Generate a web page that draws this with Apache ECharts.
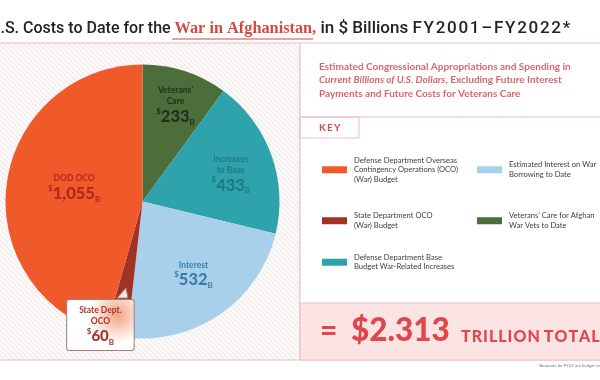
<!DOCTYPE html>
<html><head><meta charset="utf-8">
<script src="https://cdn.jsdelivr.net/npm/echarts@6/dist/echarts.min.js"></script>
<style>html,body{margin:0;padding:0;background:#fff}#c{width:600px;height:380px}</style>
</head><body><div id="c"></div>
<script>
// ---- data ----
const sliceNames = [
  "Veterans’ Care for Afghan War Vets to Date",
  "Defense Department Base Budget War-Related Increases",
  "Estimated Interest on War Borrowing to Date",
  "State Department OCO (War) Budget",
  "Defense Department Overseas Contingency Operations (OCO) (War) Budget"
];
const values = [233, 433, 532, 60, 1055];
const sliceTitles = [["Veterans’", "Care"], ["Increases", "to Base"], ["Interest"], ["State Dept.", "OCO"], ["DOD OCO"]];
const amountLabels = ["233", "433", "532", "60", "1,055"];
const legendLines = [
  ["Veterans’ Care for Afghan", "War Vets to Date"],
  ["Defense Department Base", "Budget War-Related Increases"],
  ["Estimated Interest on War", "Borrowing to Date"],
  ["State Department OCO", "(War) Budget"],
  ["Defense Department Overseas", "Contingency Operations (OCO)", "(War) Budget"]
];
const legendCol1 = [4, 3, 1];
const legendCol2 = [2, 0];
const totalText = "$2.313";

// ---- styles ----
const colors = ["#4b6e3b", "#2ea3ac", "#a9d0eb", "#a33226", "#f05a2a"];
const labelColors = ["#22301c", "#1e7a84", "#3b7eac", "#a3362c", "#b0281f"];
const labelRadius = [103, 91, 86, 127, 66];
const labelOffsets = [[0, 5], [0, 5], [0, 0], [-17, -4], [0, -4]];
const center = [142.5, 201.5];
const R = 137;
const pink = "#e7c1c4";
const F = "Lato, 'Open Sans', sans-serif";
const H = '\u200a';

const tile = document.createElement('canvas');
tile.width = 5; tile.height = 5;
const g = tile.getContext('2d');
g.fillStyle = '#fcf9f9'; g.fillRect(0, 0, 5, 5);
g.fillStyle = '#efe4e4';
for (let i = 0; i < 5; i++) g.fillRect(i, i, 1, 1);

const chart = echarts.init(document.getElementById('c'), null, {renderer: 'canvas'});

function legendText(name) {
  return legendLines[sliceNames.indexOf(name)].join('\n');
}
function legendItems(idxs) {
  return idxs.map(i => ({
    name: sliceNames[i],
    textStyle: {padding: [(legendLines[i].length - 1) * 9.5, 0, 0, 2]}
  }));
}
const legendBase = {
  orient: 'vertical', padding: 0, itemWidth: 25, itemHeight: 7, icon: 'rect',
  selectedMode: false, formatter: legendText,
  textStyle: {fontFamily: F, fontSize: 7.6, lineHeight: 9.5, color: '#404040'}
};

const labelSeries = values.map((v, i) => {
  const c = labelColors[i];
  const isCallout = i === 3;
  return {
    type: 'pie', silent: true, z: 4, center: center, radius: [0, labelRadius[i] * 2],
    startAngle: 90, clockwise: true, avoidLabelOverlap: false,
    itemStyle: {color: 'transparent'}, emphasis: {disabled: true}, labelLine: {show: false},
    data: values.map((vv, j) => ({name: 'lbl' + i + '_' + j, value: vv, label: {show: j === i}})),
    label: Object.assign({
      position: 'inside',
      offset: labelOffsets[i],
      formatter: () => sliceTitles[i].map(t => '{t|' + t + '}').join('\n') + '\n{d|$}{n|' + amountLabels[i] + '}{b|B}',
      rich: {
        t: {fontFamily: F, fontWeight: 'bold', fontSize: 8.5, lineHeight: 11, color: c, align: 'center'},
        d: {fontFamily: F, fontWeight: 'bold', fontSize: 8, lineHeight: 11, color: c, verticalAlign: 'top'},
        n: {fontFamily: F, fontWeight: 900, fontSize: isCallout ? 15 : 16.5, lineHeight: 19, color: c},
        b: {fontFamily: F, fontWeight: 'bold', fontSize: 8, lineHeight: 12, color: c, verticalAlign: 'bottom'}
      }
    }, isCallout ? {
      backgroundColor: new echarts.graphic.RadialGradient(0.75, 0.3, 0.55, [
        {offset: 0, color: '#f3a27e'}, {offset: 1, color: '#ffffff'}]),
      borderColor: '#9c7f7c', borderWidth: 1, borderRadius: 2, padding: [5, 12, 4, 12]
    } : {})
  };
});

const fyText = 'FY2001–FY2022*'.split('').join(H);

chart.setOption({
  animation: false,
  backgroundColor: '#ffffff',
  title: {
    left: -10, top: 20, padding: 0,
    text: '{a|U.S. Costs to Date for the }{r|War in Afghanistan,}{c| in $ Billions ' + fyText + '}',
    textStyle: {
      rich: {
        a: {fontFamily: "Roboto, sans-serif", fontWeight: 500, fontSize: 16, color: '#232323'},
        r: {fontFamily: "'Liberation Serif', serif", fontSize: 16.3, color: '#d4483f'},
        c: {fontFamily: "Roboto, sans-serif", fontWeight: 500, fontSize: 17, color: '#232323'}
      }
    }
  },
  graphic: [
    {type: 'rect', z: -10, shape: {x: -2, y: 43, width: 302, height: 317},
      style: {fill: {image: tile, repeat: 'repeat'}, stroke: pink, lineWidth: 1}},
    {type: 'rect', z: -10, shape: {x: 300, y: 43, width: 310, height: 317},
      style: {fill: '#ffffff', stroke: pink, lineWidth: 1}},
    {type: 'line', z: -9, shape: {x1: 300, y1: 117, x2: 610, y2: 117}, style: {stroke: pink, lineWidth: 1}},
    {type: 'rect', z: -9, shape: {x: 300, y: 117, width: 59, height: 21}, style: {fill: 'none', stroke: pink, lineWidth: 1}},
    {type: 'rect', z: -9, shape: {x: 300, y: 303, width: 310, height: 57}, style: {fill: '#fde4e4', stroke: pink, lineWidth: 1}},
    {type: 'line', z: 5, shape: {x1: 172, y1: 39, x2: 313, y2: 39}, style: {stroke: '#d4483f', lineWidth: 1}},
    {type: 'polygon', z: 100, zlevel: 0, shape: {points: [[117, 298], [126, 288], [128, 298]]},
      style: {fill: '#fbe7dd', stroke: '#9c7f7c', lineWidth: 1}},
    {type: 'text', x: 319, y: 59.5, style: {
      text: 'Estimated Congressional Appropriations and Spending in\n{i|Current Billions of U.S. Dollars}, Excluding Future Interest\nPayments and Future Costs for Veterans Care',
      fontFamily: F, fontWeight: 'bold', fontSize: 10, lineHeight: 13.8, fill: '#d9666c',
      rich: {i: {fontFamily: F, fontWeight: 'bold', fontStyle: 'italic', fontSize: 10, fill: '#d9666c', lineHeight: 13.8}}
    }},
    {type: 'text', x: 319, y: 128, style: {text: 'K\u2009E\u2009Y', fontFamily: F, fontWeight: 'bold', fontSize: 10, fill: '#cd4a4d', verticalAlign: 'middle'}},
    {type: 'text', x: 320, y: 331, style: {text: '=', fontFamily: F, fontWeight: 900, fontSize: 30, fill: '#e0464b', verticalAlign: 'middle'}},
    {type: 'text', x: 351, y: 331, style: {text: totalText, fontFamily: F, fontWeight: 900, fontSize: 31.5, fill: '#e0464b', verticalAlign: 'middle'}},
    {type: 'text', x: 461, y: 337, style: {text: 'TRILLION TOTAL'.split('').join(H).replace(' ', '\u2009'), fontFamily: F, fontWeight: 900, fontSize: 16, fill: '#e0464b', verticalAlign: 'middle'}},
    {type: 'text', x: 538, y: 366, style: {text: '*Amounts for FY22 are budget requests.', fontFamily: F, fontStyle: 'italic', fontSize: 4.5, fill: '#777', verticalAlign: 'middle'}}
  ],
  legend: [
    Object.assign({}, legendBase, {left: 322, top: 146, itemGap: 13, data: legendItems(legendCol1)}),
    Object.assign({}, legendBase, {left: 477, top: 155.5, itemGap: 22.5, data: legendItems(legendCol2)})
  ],
  series: [{
    type: 'pie', z: 2, center: center, radius: [0, R], startAngle: 90, clockwise: true,
    label: {show: false}, labelLine: {show: false}, emphasis: {disabled: true},
    data: values.map((v, i) => ({name: sliceNames[i], value: v, itemStyle: {color: colors[i]}}))
  }].concat(labelSeries)
});
</script></body></html>
